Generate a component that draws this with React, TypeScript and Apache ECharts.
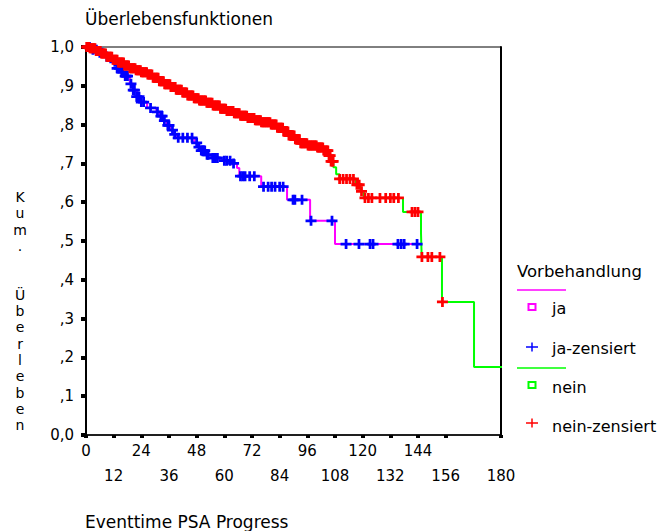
import React, { useEffect, useRef } from "react";
import * as echarts from "echarts";

// Kaplan-Meier step knots (time in months, cumulative survival)
const jaTimes = [0, 2, 5, 8, 11, 13.5, 15, 17, 19, 20.5, 22, 23.4, 26.5, 30.5, 32, 33.5, 35, 36.5, 38, 39.5, 47, 48.5, 50, 52, 54.5, 58, 63, 65.5, 66.5, 76, 87.2, 97.2, 108, 145];
const jaSurv = [1.0, 0.993, 0.985, 0.975, 0.962, 0.945, 0.935, 0.925, 0.905, 0.889, 0.872, 0.858, 0.843, 0.833, 0.822, 0.81, 0.798, 0.786, 0.775, 0.766, 0.753, 0.742, 0.733, 0.722, 0.714, 0.707, 0.7, 0.688, 0.667, 0.64, 0.606, 0.552, 0.492, 0.492];
const jaCensored = [1.5, 3, 4.5, 6, 7, 9, 12.5, 13.5, 14.5, 15.5, 16, 17, 17.5, 18, 19.5, 20.5, 21, 22, 23, 24, 25, 28, 31, 32.5, 33, 34, 35.5, 36, 37.5, 38.5, 40, 42, 44, 46, 48, 49, 50, 50.5, 51, 51.5, 52.5, 53, 55, 56, 57, 60, 61, 62.5, 64, 67, 68, 69, 71, 73, 77, 79, 80.5, 82, 84, 85.5, 89.8, 90.6, 93.7, 97.6, 106.7, 112.8, 118.4, 123.2, 124.5, 135.3, 136.7, 138, 143.6];

const neinTimes = [0, 1.5, 4, 6.5, 9, 11.5, 14, 16.5, 19, 21.5, 24, 26.5, 29, 31.5, 34, 36.5, 39, 41.5, 44, 46.5, 49, 52, 55, 58, 61, 64, 67, 70, 73, 76, 80, 83, 85.5, 88, 90.5, 93, 96, 100, 103, 105, 106.3, 107.3, 108.5, 110, 117, 119, 120.5, 137.5, 145.3, 145.6, 154.4, 168.3, 193];
const neinSurv = [1.0, 0.997, 0.99, 0.983, 0.975, 0.967, 0.96, 0.952, 0.945, 0.94, 0.935, 0.929, 0.921, 0.912, 0.904, 0.897, 0.89, 0.883, 0.875, 0.868, 0.862, 0.856, 0.849, 0.841, 0.835, 0.829, 0.823, 0.817, 0.811, 0.806, 0.8, 0.792, 0.782, 0.772, 0.762, 0.752, 0.746, 0.741, 0.733, 0.72, 0.705, 0.69, 0.672, 0.66, 0.645, 0.628, 0.611, 0.575, 0.52, 0.459, 0.343, 0.175, 0.175];
const neinCensored = [
  0.3, 0.8, 1.2, 1.7, 2.1, 2.6, 3.0, 3.5, 3.9, 4.4, 4.9, 5.3, 5.8, 6.2, 6.7, 7.1, 7.6, 8.0, 8.5, 9.0, 9.4, 9.9,
  10.3, 10.8, 11.2, 11.7, 12.1, 12.6, 13.1, 13.5, 14.0, 14.4, 14.9, 15.3, 15.8, 16.3, 16.7, 17.2, 17.6, 18.1, 18.5,
  19.0, 19.5, 19.9, 20.4, 20.8, 21.3, 21.7, 22.2, 22.7, 23.1, 23.6, 24.0, 24.5, 24.9, 25.4, 25.9, 26.3, 26.8, 27.2,
  27.7, 28.1, 28.6, 29.1, 29.5, 30.0, 30.4, 30.9, 31.3, 31.8, 32.3, 32.7, 33.2, 33.6, 34.1, 34.5, 35.0, 35.5, 35.9,
  36.4, 36.8, 37.3, 37.7, 38.2, 38.7, 39.1, 39.6, 40.0, 40.5, 40.9, 41.4, 41.9, 42.3, 42.8, 43.2, 43.7, 44.1, 44.6,
  45.1, 45.5, 46.0, 46.4, 46.9, 47.3, 47.8, 48.3, 48.7, 49.2, 49.6, 50.1, 50.5, 51.0, 51.5, 51.9, 52.4, 52.8, 53.3,
  53.7, 54.2, 54.7, 55.1, 55.6, 56.0, 56.5, 56.9, 57.4, 57.9, 58.3, 58.8, 59.2, 59.7, 60.1, 60.6, 61.1, 61.5, 62.0,
  62.4, 62.9, 63.3, 63.8, 64.3, 64.7, 65.2, 65.6, 66.1, 66.5, 67.0, 67.5, 67.9, 68.4, 68.8, 69.3, 69.7, 70.2, 70.7,
  71.1, 71.6, 72.0, 72.5, 72.9, 73.4, 73.9, 74.3, 74.8, 75.2, 75.7, 76.1, 76.6, 77.1, 77.5, 78.0, 78.4, 78.9, 79.3,
  79.8, 80.3, 80.7, 81.2, 81.6, 82.1, 82.5, 83.0, 83.5, 83.9, 84.4, 84.8, 85.3, 85.7, 86.2, 86.7, 87.1, 87.6, 88.0,
  88.5, 88.9, 89.4, 89.9, 90.3, 90.8, 91.2, 91.7, 92.1, 92.6, 93.1, 93.5, 94.0, 94.4, 94.9, 95.3, 95.8, 96.3, 96.7,
  97.2, 97.6, 98.1, 98.5, 99.0, 99.5, 99.9, 100.4, 100.8, 101.3, 101.7, 102.2, 102.7, 103.1, 103.6, 104.0, 104.5,
  104.9, 105.4, 105.9, 106.3, 106.8, 107.2, 110, 111.5, 113, 114.5, 116, 117.5, 118.5, 119.5, 121, 122.5, 124,
  127.5, 130, 132, 133.5, 135.5, 141.4, 142.7, 144, 145.7, 148.3, 150, 153.5, 154.6,
];

const yTickLabels = ["0,0", ",1", ",2", ",3", ",4", ",5", ",6", ",7", ",8", ",9", "1,0"];
const legendItems = ["ja", "ja-zensiert", "nein", "nein-zensiert"];
const titleText = "Überlebensfunktionen";
const xAxisTitle = "Eventtime PSA Progress";
const yAxisTitle = ["K", "u", "m", ".", "", "", "Ü", "b", "e", "r", "l", "e", "b", "e", "n"];
const legendTitle = "Vorbehandlung";

const FONT = "DejaVu Sans";
const PLUS = "path://M0,3.25H3.75V0H6.25V3.25H10V5.75H6.25V9H3.75V5.75H0Z";

function stepPoints(times: number[], surv: number[]) {
  const pts: number[][] = [];
  for (let i = 0; i < times.length; i++) {
    if (i > 0 && surv[i] !== surv[i - 1]) pts.push([times[i], surv[i - 1]]);
    pts.push([times[i], surv[i]]);
  }
  return pts;
}

function kmAt(times: number[], surv: number[], t: number) {
  let s = surv[0];
  for (let i = 0; i < times.length; i++) if (times[i] <= t) s = surv[i];
  return s;
}

export default function App() {
  const ref = useRef<HTMLDivElement>(null);
  useEffect(() => {
    const chart = echarts.init(ref.current!, null, { renderer: "svg" });
    const legendX = 517;
    const markX = 532;
    const textX = 552;
    const txt = (text: string, x: number, y: number, size = 17) => ({
      type: "text",
      x,
      y,
      style: { text, fontFamily: FONT, fontSize: size, fill: "#000", align: "left", verticalAlign: "middle" },
    });
    chart.setOption({
      animation: false,
      backgroundColor: "#fff",
      grid: { left: 86, right: 160, top: 47, bottom: 96, show: true, borderColor: "#000", borderWidth: 1 },
      xAxis: {
        type: "value",
        min: 0,
        max: 180,
        interval: 12,
        axisLine: { show: true, onZero: false, lineStyle: { color: "#000", width: 1.5 } },
        axisTick: { show: true, length: 3, lineStyle: { color: "#000", width: 4 } },
        splitLine: { show: false },
        axisLabel: {
          margin: 3,
          color: "#000",
          fontFamily: FONT,
          fontSize: 15,
          lineHeight: 25.5,
          showMaxLabel: true,
          showMinLabel: true,
          formatter: (v: number) => (Math.round(v / 12) % 2 === 1 ? "\n" + v : String(v)),
        },
      },
      yAxis: [
        {
          type: "value",
          min: 0,
          max: 1,
          interval: 0.1,
          axisLine: { show: true, lineStyle: { color: "#000", width: 2 } },
          axisTick: { show: true, length: 5, lineStyle: { color: "#000", width: 4 } },
          splitLine: { show: false },
          axisLabel: {
            margin: 12,
            color: "#000",
            fontFamily: FONT,
            fontSize: 15,
            formatter: (v: number) => yTickLabels[Math.round(v * 10)],
          },
        },
        {
          type: "value",
          position: "right",
          min: 0,
          max: 1,
          axisLine: { show: true, lineStyle: { color: "#000", width: 2 } },
          axisTick: { show: false },
          axisLabel: { show: false },
          splitLine: { show: false },
        },
      ],
      series: [
        {
          type: "line",
          data: stepPoints(jaTimes, jaSurv),
          showSymbol: false,
          symbol: "none",
          clip: false,
          silent: true,
          lineStyle: { color: "#FF00FF", width: 2 },
          z: 2,
        },
        {
          type: "line",
          data: stepPoints(neinTimes, neinSurv),
          showSymbol: false,
          symbol: "none",
          clip: false,
          silent: true,
          lineStyle: { color: "#00FF00", width: 2 },
          z: 2,
        },
        {
          type: "scatter",
          data: jaCensored.map((t) => [t, kmAt(jaTimes, jaSurv, t)]),
          symbol: PLUS,
          symbolSize: [11, 10],
          silent: true,
          itemStyle: { color: "#0000FF", opacity: 1 },
          z: 3,
        },
        {
          type: "scatter",
          data: neinCensored.map((t) => [t, kmAt(neinTimes, neinSurv, t)]),
          symbol: PLUS,
          symbolSize: [11, 10],
          silent: true,
          itemStyle: { color: "#FF0000", opacity: 1 },
          z: 4,
        },
      ],
      graphic: [
        txt(titleText, 85, 19),
        txt(xAxisTitle, 85, 522),
        {
          type: "text",
          x: 20,
          y: 311,
          style: {
            text: yAxisTitle.join("\n"),
            fontFamily: FONT,
            fontSize: 14,
            lineHeight: 16.3,
            fill: "#000",
            align: "center",
            verticalAlign: "middle",
          },
        },
        txt(legendTitle, legendX, 271, 16.5),
        { type: "line", shape: { x1: legendX, y1: 290, x2: 566, y2: 290 }, style: { stroke: "#FF00FF", lineWidth: 1.5 } },
        { type: "rect", shape: { x: markX - 3.5, y: 304, width: 7, height: 6 }, style: { fill: "#fff", stroke: "#FF00FF", lineWidth: 2 } },
        txt(legendItems[0], textX, 308, 16),
        { type: "line", shape: { x1: markX - 6, y1: 347, x2: markX + 6, y2: 347 }, style: { stroke: "#0000FF", lineWidth: 1.5 } },
        { type: "line", shape: { x1: markX, y1: 342.5, x2: markX, y2: 351.5 }, style: { stroke: "#0000FF", lineWidth: 1.5 } },
        txt(legendItems[1], textX, 348, 16),
        { type: "line", shape: { x1: legendX, y1: 368, x2: 566, y2: 368 }, style: { stroke: "#00FF00", lineWidth: 1.5 } },
        { type: "rect", shape: { x: markX - 3.5, y: 382, width: 7, height: 6 }, style: { fill: "#fff", stroke: "#00FF00", lineWidth: 2 } },
        txt(legendItems[2], textX, 387, 16),
        { type: "line", shape: { x1: markX - 6, y1: 423, x2: markX + 6, y2: 423 }, style: { stroke: "#FF0000", lineWidth: 1.5 } },
        { type: "line", shape: { x1: markX, y1: 418.5, x2: markX, y2: 427.5 }, style: { stroke: "#FF0000", lineWidth: 1.5 } },
        txt(legendItems[3], textX, 426, 16),
      ],
    });
    return () => chart.dispose();
  }, []);
  return <div ref={ref} style={{ position: "fixed", left: 0, top: 0, width: 661, height: 531 }} />;
}
